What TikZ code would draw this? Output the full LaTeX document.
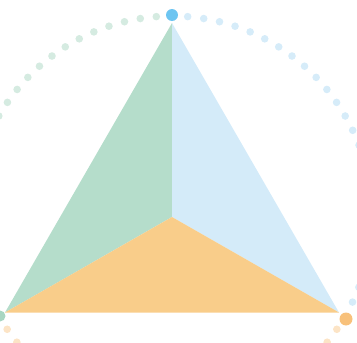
\documentclass[tikz,border=0pt]{standalone}
\usetikzlibrary{calc}
\definecolor{gfill}{HTML}{B5DDCB}
\definecolor{bfill}{HTML}{D4EBF9}
\definecolor{ofill}{HTML}{F9CD8A}
\definecolor{gdot}{HTML}{D5EBE1}
\definecolor{bdot}{HTML}{D6ECF9}
\definecolor{odot}{HTML}{FCE4C6}
\definecolor{gbig}{HTML}{A8D6C2}
\definecolor{bbig}{HTML}{6DC5F1}
\definecolor{obig}{HTML}{F8C17B}
\tikzset{smalldot/.style={circle,inner sep=0pt,minimum size=7.6pt},
bigdot/.style={circle,inner sep=0pt,minimum size=12pt}}
\begin{document}
\begin{tikzpicture}[x=1pt,y=-1pt]
\useasboundingbox (0,0) rectangle (357,343);
\clip (0,0) rectangle (357,343);
\coordinate (T) at (172,23);
\coordinate (L) at (5,312.5);
\coordinate (R) at (339,312.5);
\coordinate (C) at (172,217);
\fill[gfill] (T) -- (C) -- (L) -- cycle;
\fill[bfill] (T) -- (C) -- (R) -- cycle;
\fill[ofill] (L) -- (C) -- (R) -- cycle;
\coordinate (O) at (172,216);
% dotted arcs (angles measured counter-clockwise, y axis flipped)
\foreach \i in {0,...,24}{
  \pgfmathsetmacro{\ag}{94.5+\i*4.625}
  \fill[gdot] ($(O)+({200*cos(\ag)},{-200*sin(\ag)})$) circle (3.8);
  \pgfmathsetmacro{\ab}{85.5-\i*4.625}
  \fill[bdot] ($(O)+({200*cos(\ab)},{-200*sin(\ab)})$) circle (3.8);
  \pgfmathsetmacro{\ao}{214.5+\i*4.625}
  \fill[odot] ($(O)+({200*cos(\ao)},{-200*sin(\ao)})$) circle (3.8);
}
\node[bigdot,fill=bbig] (topdot) at (172,15) {};
\node[bigdot,fill=gbig,minimum size=11pt] (leftdot) at (0,316) {};
\node[bigdot,fill=obig,minimum size=13pt] (rightdot) at (346,319) {};
\end{tikzpicture}
\end{document}
